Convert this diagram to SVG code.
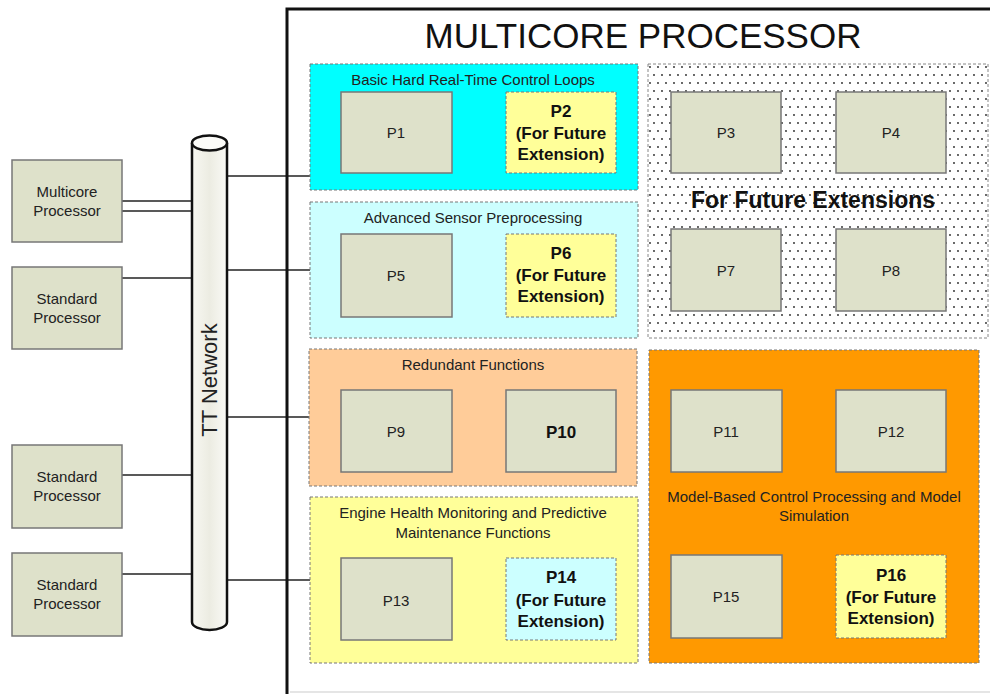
<svg xmlns="http://www.w3.org/2000/svg" width="990" height="694" viewBox="0 0 990 694">
<style>
text{font-family:"Liberation Sans",Arial,sans-serif;fill:#222;text-anchor:middle}
.reg{stroke:#777;stroke-width:1;stroke-dasharray:3,2}
.p{fill:#DEE1CA;stroke:#777;stroke-width:1.5}
.pd{stroke:#777;stroke-width:1;stroke-dasharray:3,2}
.pl{font-size:15px}
.pb{font-size:17px;font-weight:bold;fill:#111}
.rt{font-size:15px}
.ln{stroke:#222;stroke-width:1.5;fill:none}
</style>
<defs>
<pattern id="dots" width="8" height="16" patternUnits="userSpaceOnUse">
<rect width="8" height="16" fill="#fff"/>
<circle cx="2" cy="3" r="0.9" fill="#222"/>
<circle cx="6" cy="11" r="0.9" fill="#222"/>
</pattern>
<linearGradient id="cyl" x1="0" y1="0" x2="1" y2="0">
<stop offset="0" stop-color="#f8f8f2"/>
<stop offset="0.5" stop-color="#ecece2"/>
<stop offset="1" stop-color="#fafaf6"/>
</linearGradient>
</defs>
<rect width="990" height="694" fill="#fff"/>
<g id="connectors">
<line class="ln" x1="122" y1="201" x2="193" y2="201"/>
<line class="ln" x1="122" y1="211" x2="193" y2="211"/>
<line class="ln" x1="122" y1="278" x2="193" y2="278"/>
<line class="ln" x1="122" y1="475" x2="193" y2="475"/>
<line class="ln" x1="122" y1="574" x2="193" y2="574"/>
<line class="ln" x1="227" y1="176" x2="310" y2="176"/>
<line class="ln" x1="227" y1="270" x2="310" y2="270"/>
<line class="ln" x1="227" y1="417" x2="310" y2="417"/>
<line class="ln" x1="227" y1="580" x2="310" y2="580"/>
</g>
<g id="multicore">
<path d="M287,694 V9 H990" fill="none" stroke="#111" stroke-width="3"/>
<line x1="290" y1="692" x2="990" y2="692" stroke="#ddd" stroke-width="1.5"/>
<text x="643" y="48" style="font-size:35px;fill:#111">MULTICORE PROCESSOR</text>
</g>
<g id="network">
<path d="M192,143 V622 A17.5,8 0 0 0 227,622 V143" fill="url(#cyl)" stroke="#111" stroke-width="2.5"/>
<ellipse cx="209.5" cy="143" rx="17.5" ry="7.5" fill="#fbfbf8" stroke="#111" stroke-width="2.5"/>
<text transform="translate(217,380) rotate(-90)" style="font-size:22px;fill:#222">TT Network</text>
</g>
<g id="mp-left">
<rect class="p" x="12" y="160" width="110" height="82"/>
<text class="pl" x="67" y="197">Multicore</text>
<text class="pl" x="67" y="216">Processor</text>
</g>
<g id="sp1">
<rect class="p" x="12" y="267" width="110" height="82"/>
<text class="pl" x="67" y="304">Standard</text>
<text class="pl" x="67" y="323">Processor</text>
</g>
<g id="sp2">
<rect class="p" x="12" y="445" width="110" height="83"/>
<text class="pl" x="67" y="482">Standard</text>
<text class="pl" x="67" y="501">Processor</text>
</g>
<g id="sp3">
<rect class="p" x="12" y="553" width="110" height="83"/>
<text class="pl" x="67" y="590">Standard</text>
<text class="pl" x="67" y="609">Processor</text>
</g>
<g id="region1">
<rect class="reg" x="310" y="64" width="328" height="126" fill="#00FFFF"/>
<text class="rt" x="473" y="85">Basic Hard Real-Time Control Loops</text>
</g>
<g id="P1"><rect class="p" x="341" y="92" width="111" height="81"/><text class="pl" x="396" y="138">P1</text></g>
<g id="P2"><rect class="pd" x="506" y="92" width="110" height="81" fill="#FFFF99"/>
<text class="pb" x="561" y="117">P2</text><text class="pb" x="561" y="139">(For Future</text><text class="pb" x="561" y="160">Extension)</text></g>
<g id="region2">
<rect class="reg" x="310" y="202" width="328" height="136" fill="#CCFFFF"/>
<text class="rt" x="473" y="223">Advanced Sensor Preprocessing</text>
</g>
<g id="P5"><rect class="p" x="341" y="234" width="111" height="83"/><text class="pl" x="396" y="281">P5</text></g>
<g id="P6"><rect class="pd" x="506" y="234" width="110" height="83" fill="#FFFF99"/>
<text class="pb" x="561" y="259">P6</text><text class="pb" x="561" y="281">(For Future</text><text class="pb" x="561" y="302">Extension)</text></g>
<g id="region3">
<rect class="reg" x="309" y="349" width="328" height="137" fill="#FFCC99"/>
<text class="rt" x="473" y="370">Redundant Functions</text>
</g>
<g id="P9"><rect class="p" x="341" y="390" width="111" height="82"/><text class="pl" x="396" y="437">P9</text></g>
<g id="P10"><rect class="p" x="506" y="390" width="110" height="82"/><text class="pb" x="561" y="438">P10</text></g>
<g id="region4">
<rect class="reg" x="310" y="497" width="328" height="166" fill="#FFFF99"/>
<text class="rt" x="473" y="518">Engine Health Monitoring and Predictive</text>
<text class="rt" x="473" y="538">Maintenance Functions</text>
</g>
<g id="P13"><rect class="p" x="341" y="558" width="111" height="82"/><text class="pl" x="396" y="606">P13</text></g>
<g id="P14"><rect class="pd" x="506" y="558" width="110" height="82" fill="#CCFFFF"/>
<text class="pb" x="561" y="583">P14</text><text class="pb" x="561" y="606">(For Future</text><text class="pb" x="561" y="627">Extension)</text></g>
<g id="region5">
<rect x="648" y="64" width="340" height="274" fill="url(#dots)" stroke="#888" stroke-width="1" stroke-dasharray="3,2"/>
<text x="813" y="208" style="font-size:23px;font-weight:bold;fill:#111">For Future Extensions</text>
</g>
<g id="P3"><rect class="p" x="671" y="92" width="110" height="81"/><text class="pl" x="726" y="138">P3</text></g>
<g id="P4"><rect class="p" x="836" y="92" width="110" height="81"/><text class="pl" x="891" y="138">P4</text></g>
<g id="P7"><rect class="p" x="671" y="229" width="110" height="82"/><text class="pl" x="726" y="276">P7</text></g>
<g id="P8"><rect class="p" x="836" y="229" width="110" height="82"/><text class="pl" x="891" y="276">P8</text></g>
<g id="region6">
<rect class="reg" x="649" y="350" width="330" height="313" fill="#FF9900"/>
<text class="rt" x="814" y="502">Model-Based Control Processing and Model</text>
<text class="rt" x="814" y="521">Simulation</text>
</g>
<g id="P11"><rect class="p" x="671" y="390" width="111" height="82"/><text class="pl" x="726" y="437">P11</text></g>
<g id="P12"><rect class="p" x="836" y="390" width="110" height="82"/><text class="pl" x="891" y="437">P12</text></g>
<g id="P15"><rect class="p" x="671" y="555" width="111" height="83"/><text class="pl" x="726" y="602">P15</text></g>
<g id="P16"><rect class="pd" x="836" y="555" width="110" height="83" fill="#FFFF99"/>
<text class="pb" x="891" y="581">P16</text><text class="pb" x="891" y="603">(For Future</text><text class="pb" x="891" y="624">Extension)</text></g>
</svg>
